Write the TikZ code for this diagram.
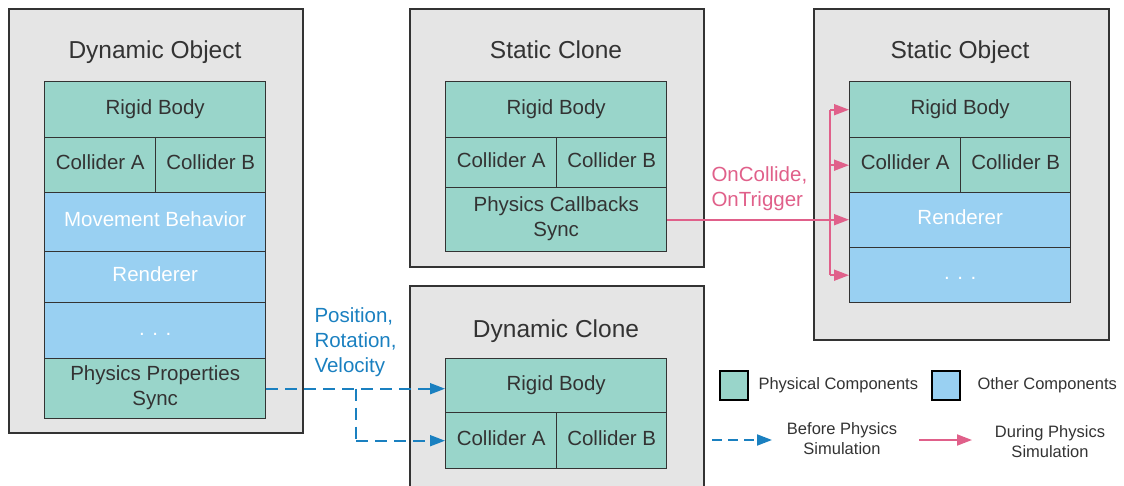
\documentclass[tikz,border=0pt]{standalone}
\usepackage{fontspec}
\setmainfont{Liberation Sans}
\usetikzlibrary{arrows.meta}
\definecolor{boxgray}{HTML}{E5E5E5}
\definecolor{edge}{HTML}{333333}
\definecolor{physc}{HTML}{99D5CA}
\definecolor{otherc}{HTML}{99D0F2}
\definecolor{flowblue}{HTML}{1A80C0}
\definecolor{flowpink}{HTML}{E0608A}
\definecolor{txt}{HTML}{333333}
\newcommand{\rtext}[1]{\raisebox{0.6pt}[\height][\depth]{\begin{tabular}{@{}c@{}}#1\end{tabular}}}
\begin{document}
\begin{tikzpicture}[x=1pt,y=-1pt,
  outerbox/.style={draw=edge,line width=1.6pt,fill=boxgray,anchor=north west,inner sep=0pt},
  titletext/.style={text=txt,font=\fontsize{24.5}{29}\selectfont,anchor=base},
  comp/.style={draw=edge,line width=1.4pt,anchor=north west,inner sep=0pt,align=center,font=\fontsize{20.5}{25}\selectfont},
  phys/.style={comp,fill=physc,text=txt},
  other/.style={comp,fill=otherc,text=white},
  bluearrow/.style={draw=flowblue,line width=1.8pt,dash pattern=on 12pt off 7pt,-{Triangle[length=15pt,width=11pt]}},
  blueline/.style={draw=flowblue,line width=1.8pt,dash pattern=on 12pt off 7pt},
  pinkarrow/.style={draw=flowpink,line width=1.8pt,-{Triangle[length=15pt,width=11pt]}},
  pinkline/.style={draw=flowpink,line width=1.8pt},
  labeltext/.style={font=\fontsize{20.5}{25}\selectfont,align=left,anchor=west},
  legendtext/.style={text=txt,font=\fontsize{16.5}{20}\selectfont,align=center},
]
\useasboundingbox (0,0) rectangle (1124,486);
\begin{scope}
\clip (0,0) rectangle (1124,486);
% Dynamic Object
\node[outerbox,minimum width=294pt,minimum height=424pt] (dobox) at (8,8) {};
\node[titletext] (dotitle) at (155,59) {Dynamic Object};
\node[phys,minimum width=221pt,minimum height=56pt] (dorb) at (44,81) {\rtext{Rigid Body}};
\node[phys,minimum width=111pt,minimum height=55pt] (doca) at (44,137) {\rtext{Collider A}};
\node[phys,minimum width=110pt,minimum height=55pt] (docb) at (155,137) {\rtext{Collider B}};
\node[other,minimum width=221pt,minimum height=59pt] (domb) at (44,192) {\rtext{Movement Behavior}};
\node[other,minimum width=221pt,minimum height=51pt] (doren) at (44,251) {\rtext{Renderer}};
\node[other,minimum width=221pt,minimum height=56pt] (dodots) at (44,302) {\rtext{. . .}};
\node[phys,minimum width=221pt,minimum height=60pt] (dopps) at (44,358) {\rtext{Physics Properties\\Sync}};
% Static Clone
\node[outerbox,minimum width=294pt,minimum height=258pt] (scbox) at (409,8) {};
\node[titletext] (sctitle) at (556,59) {Static Clone};
\node[phys,minimum width=221pt,minimum height=56pt] (scrb) at (445,81) {\rtext{Rigid Body}};
\node[phys,minimum width=111pt,minimum height=50pt] (scca) at (445,137) {\rtext{Collider A}};
\node[phys,minimum width=110pt,minimum height=50pt] (sccb) at (556,137) {\rtext{Collider B}};
\node[phys,minimum width=221pt,minimum height=64pt] (scpcs) at (445,187) {\rtext{Physics Callbacks\\Sync}};
% Dynamic Clone
\node[outerbox,minimum width=294pt,minimum height=215pt] (dcbox) at (409,285) {};
\node[titletext] (dctitle) at (556,337) {Dynamic Clone};
\node[phys,minimum width=221pt,minimum height=54pt] (dcrb) at (445,358) {\rtext{Rigid Body}};
\node[phys,minimum width=111pt,minimum height=56pt] (dcca) at (445,412) {\rtext{Collider A}};
\node[phys,minimum width=110pt,minimum height=56pt] (dccb) at (556,412) {\rtext{Collider B}};
% Static Object
\node[outerbox,minimum width=295pt,minimum height=331pt] (sobox) at (813,8) {};
\node[titletext] (sotitle) at (960,59) {Static Object};
\node[phys,minimum width=221pt,minimum height=56pt] (sorb) at (849,81) {\rtext{Rigid Body}};
\node[phys,minimum width=111pt,minimum height=55pt] (soca) at (849,137) {\rtext{Collider A}};
\node[phys,minimum width=110pt,minimum height=55pt] (socb) at (960,137) {\rtext{Collider B}};
\node[other,minimum width=221pt,minimum height=55pt] (soren) at (849,192) {\rtext{Renderer}};
\node[other,minimum width=221pt,minimum height=55pt] (sodots) at (849,247) {\rtext{. . .}};
\end{scope}
% Blue flow
\coordinate (bbr) at (356,0);
\draw[bluearrow] (dopps.east) -- (dopps.east -| dcrb.west);
\draw[blueline] (bbr |- dopps.east) -- (bbr |- dcca.west);
\draw[bluearrow] (bbr |- dcca.west) -- (dcca.west);
\node[labeltext,text=flowblue] (bluelabel) at (311,342) {Position,\\Rotation,\\Velocity};
% Pink flow
\coordinate (pbr) at (830,0);
\draw[pinkarrow] (scpcs.east) -- (scpcs.east -| soren.west);
\draw[pinkline] (pbr |- sorb.west) -- (pbr |- sodots.west);
\draw[pinkarrow] (pbr |- sorb.west) -- (sorb.west);
\draw[pinkarrow] (pbr |- soca.west) -- (soca.west);
\draw[pinkarrow] (pbr |- sodots.west) -- (sodots.west);
\node[labeltext,text=flowpink] (pinklabel) at (708,189) {OnCollide,\\OnTrigger};
% Legend
\node[draw=black,line width=1.4pt,fill=physc,minimum width=28pt,minimum height=29pt,inner sep=0pt] (lgphys) at (734,385.5) {};
\node[legendtext,anchor=west] (lgphystxt) at (755,385.5) {Physical Components};
\node[draw=black,line width=1.4pt,fill=otherc,minimum width=28pt,minimum height=29pt,inner sep=0pt] (lgother) at (946,385.5) {};
\node[legendtext,anchor=west] (lgothertxt) at (974,385.5) {Other Components};
\coordinate (lgba) at (712,440);
\coordinate (lgbb) at (772,440);
\draw[bluearrow,dash pattern=on 10pt off 6pt] (lgba) -- (lgbb);
\node[legendtext] (lgbtxt) at (842,438.5) {Before Physics\\Simulation};
\coordinate (lgpa) at (919,440);
\coordinate (lgpb) at (972,440);
\draw[pinkarrow] (lgpa) -- (lgpb);
\node[legendtext] (lgptxt) at (1050,442) {During Physics\\Simulation};
\end{tikzpicture}
\end{document}
